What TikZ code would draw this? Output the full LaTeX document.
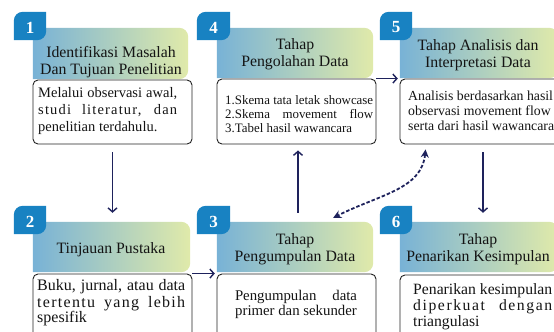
\documentclass[tikz,border=0pt]{standalone}
\usepackage{fontspec}
\setmainfont{Liberation Serif}
\usetikzlibrary{arrows.meta,backgrounds,calc}
\definecolor{hdrL}{RGB}{120,178,214}
\definecolor{hdrR}{RGB}{224,234,170}
\definecolor{badgeblue}{RGB}{24,130,194}
\definecolor{navy}{RGB}{30,34,92}
\definecolor{boxline}{RGB}{35,35,35}
\definecolor{txt}{RGB}{20,20,20}
\newcommand\lsp[2]{{\addfontfeature{LetterSpace=#1}#2}}
\newcommand\jl[2]{\makebox[#1][s]{#2}}
\newcommand\fs[2]{\fontsize{#1bp}{#2bp}\selectfont}
\newcommand\hdrshape[1]{%
  \shade[left color=hdrL,right color=hdrR]
   (#1.north west) -- ([xshift=-9bp]#1.north east)
   arc[start angle=90,end angle=0,radius=9bp]
   -- ([yshift=9bp]#1.south east)
   arc[start angle=0,end angle=-90,radius=9bp]
   -- (#1.south west) -- cycle;}
\newcommand\badgeshape[1]{%
  \fill[badgeblue] (#1.south west) -- ([yshift=-9bp]#1.north west)
   arc[start angle=180,end angle=90,radius=9bp]
   -- (#1.north east) -- ([yshift=9bp]#1.south east)
   arc[start angle=0,end angle=-90,radius=9bp] -- cycle;}
\begin{document}
\begin{tikzpicture}[x=1bp,y=-1bp,
  hdrgeo/.style={inner sep=0, minimum height=50bp},
  badgegeo/.style={inner sep=0, minimum width=32bp, minimum height=28bp},
  bodybox/.style={draw=boxline, line width=0.9bp, fill=white, rounded corners=5bp, inner sep=0},
  bodytxt/.style={inner sep=0, text=txt, align=left, anchor=north west},
  hdrtxt/.style={inner sep=0, text=txt, align=center, anchor=north, font=\fs{15.8}{17}},
  num/.style={text=white, font=\fs{17}{17}\bfseries, inner sep=0},
  arr/.style={draw=navy, line width=1.4bp, -{Straight Barb[length=4bp,width=9bp]}},
  dots/.style={draw=navy, line width=1.8bp, dash pattern=on 3.5bp off 2bp,
     {Stealth[length=8bp,width=8bp]}-{Stealth[length=8bp,width=8bp]}}]
\useasboundingbox (0,0) rectangle (554,331);
\clip (0,0) rectangle (554,331);

% header geometry
\node[hdrgeo, minimum width=155bp, minimum height=51bp] (h1) at (110.5,53.5) {};
\node[hdrgeo, minimum width=156bp] (h4) at (295,53) {};
\node[hdrgeo, minimum width=158bp] (h5) at (479,53) {};
\node[hdrgeo, minimum width=157bp] (h2) at (111.5,247) {};
\node[hdrgeo, minimum width=156bp] (h3) at (295,247) {};
\node[hdrgeo, minimum width=158bp] (h6) at (479,247) {};

% badges
\node[badgegeo] (n1) at (30,26) {};
\node[badgegeo, minimum width=33bp] (n4) at (213.5,26) {};
\node[badgegeo] (n5) at (396,26) {};
\node[badgegeo] (n2) at (30,220) {};
\node[badgegeo, minimum width=33bp] (n3) at (213.5,220) {};
\node[badgegeo] (n6) at (396,220) {};

\begin{scope}[on background layer]
  \fill[white] (0,0) rectangle (554,331);
  \hdrshape{h1}\hdrshape{h4}\hdrshape{h5}\hdrshape{h2}\hdrshape{h3}\hdrshape{h6}
  \badgeshape{n1}\badgeshape{n4}\badgeshape{n5}\badgeshape{n2}\badgeshape{n3}\badgeshape{n6}
\end{scope}

\node[num] (n1t) at ([yshift=-1.5bp]n1.center) {1};
\node[num] (n4t) at ([yshift=-1.5bp]n4.center) {4};
\node[num] (n5t) at ([yshift=-1.5bp]n5.center) {5};
\node[num] (n2t) at ([yshift=-1.5bp]n2.center) {2};
\node[num] (n3t) at ([yshift=-1.5bp]n3.center) {3};
\node[num] (n6t) at ([yshift=-1.5bp]n6.center) {6};

% header texts
\node[hdrtxt] (h1t) at (111,45.6) {\strut Identifikasi Masalah\\Dan Tujuan Penelitian};
\node[hdrtxt] (h4t) at (295,37.6) {\strut Tahap\\Pengolahan Data};
\node[hdrtxt] (h5t) at (478,38.6) {\strut Tahap Analisis dan\\Interpretasi Data};
\node[hdrtxt] (h2t) at (111,241.1) {\strut Tinjauan Pustaka};
\node[hdrtxt] (h3t) at (295,232.1) {\strut Tahap\\Pengumpulan Data};
\node[hdrtxt] (h6t) at (478,232.1) {\strut Tahap\\Penarikan Kesimpulan};

% body boxes
\node[bodybox, minimum width=159bp, minimum height=64bp] (b1) at (112.5,112) {};
\node[bodybox, minimum width=159bp, minimum height=65bp] (b4) at (296.5,111.5) {};
\node[bodybox, minimum width=160bp, minimum height=65bp] (b5) at (480,111.5) {};
\node[bodybox, minimum width=159bp, minimum height=72bp] (b2) at (112.5,310) {};
\node[bodybox, minimum width=159bp, minimum height=72bp] (b3) at (296.5,310) {};
\node[bodybox, minimum width=160bp, minimum height=71bp] (b6) at (480,310.5) {};

% body texts
\node[bodytxt, font=\fs{14.5}{17}] (bt1) at (38,85.1)
  {\strut\jl{139bp}{Melalui observasi awal,}\\
   \jl{139bp}{\lsp{8}{studi literatur, dan}}\\
   penelitian terdahulu.};
\node[bodytxt, font=\fs{12.9}{14}] (bt4) at (225,94.2)
  {\strut\jl{148bp}{1.Skema tata letak showcase}\\
   \jl{148bp}{2.Skema movement flow}\\
   3.Tabel hasil wawancara};
\node[bodytxt, font=\fs{13.8}{15}] (bt5) at (408,89.5)
  {\strut Analisis berdasarkan hasil\\
   observasi movement flow\\
   serta dari hasil wawancara};
\node[bodytxt, font=\fs{16}{15}] (bt2) at (37,279.5)
  {\strut\jl{148bp}{Buku, jurnal, atau data}\\
   \jl{148bp}{\lsp{8}{tertentu yang lebih}}\\
   spesifik};
\node[bodytxt, align=center, anchor=north, font=\fs{14.8}{15}] (bt3) at (296,289.5)
  {\strut\jl{122bp}{Pengumpulan data}\\
   primer dan sekunder};
\node[bodytxt, font=\fs{15.7}{15.5}] (bt6) at (413,283.2)
  {\strut Penarikan kesimpulan\\
   \jl{139bp}{\lsp{10}{diperkuat dengan}}\\
   triangulasi};

% connectors
\draw[arr, shorten <=8bp, shorten >=9bp] (b1.south) -- (b1.south |- h2.north);
\draw[arr, shorten >=2bp] (b2.north east) -- (b2.north east -| h3.west);
\draw[arr, shorten <=9bp, shorten >=6bp] ([xshift=3bp]h3.north) -- ([xshift=3bp]h3.north |- b4.south);
\draw[arr, shorten >=2bp] (b4.north east) -- (b4.north east -| h5.west);
\draw[arr, shorten <=8bp, shorten >=9bp] ([xshift=3bp]b5.south) -- ([xshift=3bp]b5.south |- h6.north);
\draw[dots] ($(b5.south west)+(26,5)$) .. controls ($(b5.south west)+(22,45)$) and ($(b5.south west)+(-20,50)$) .. ($(h3.north east)+(-40,-4)$);
\end{tikzpicture}
\end{document}
